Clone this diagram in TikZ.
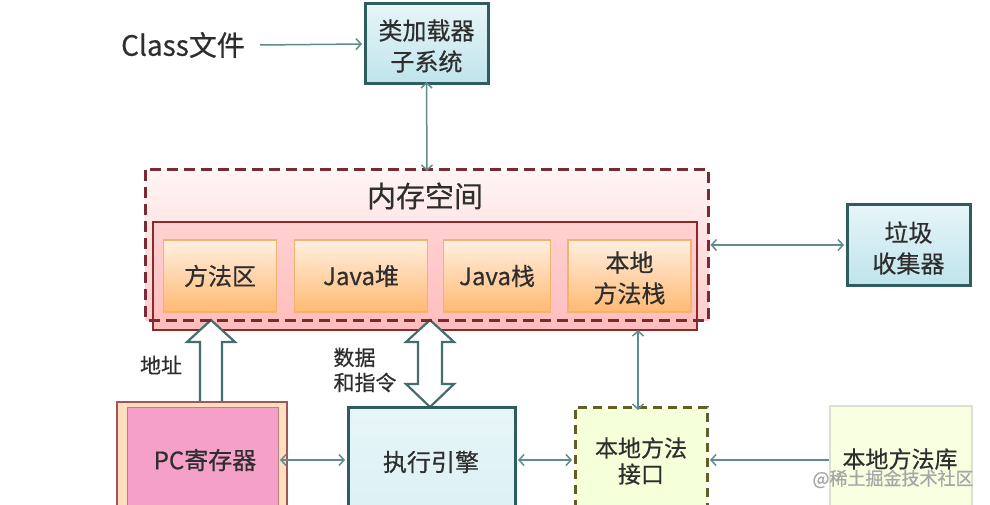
\documentclass[tikz,border=0pt]{standalone}
\usepackage{fontspec}
\setmainfont{Noto Sans CJK SC}[FakeBold=0.5]
\usetikzlibrary{arrows.meta}
\definecolor{tealline}{HTML}{2F5D5E}
\definecolor{conncol}{HTML}{5F8C8C}
\definecolor{txt}{HTML}{2E2E2E}
\definecolor{memred}{HTML}{7A2A35}
\definecolor{innerred}{HTML}{8B2A2A}
\definecolor{bluetop}{HTML}{E6F5F8}
\definecolor{bluebot}{HTML}{BFE4EC}
\definecolor{pcpink}{HTML}{F4A0C8}
\begin{document}
\begin{tikzpicture}[x=1pt,y=-1pt,
  every node/.style={text=txt, inner sep=0pt, outer sep=0pt},
  lbl/.style={font=\fontsize{24}{31}\selectfont, align=center},
  bluebox/.style={rectangle, top color=bluetop, bottom color=bluebot, draw=tealline, line width=3pt},
  subbox/.style={rectangle, top color=orange!12!white, bottom color=orange!55!white, draw=orange!70!brown!60, line width=1.5pt},
  conn/.style={draw=conncol, line width=1.5pt, >={Straight Barb[length=5pt,width=11pt]}},
  hollow/.style={draw=tealline!90, line width=2.2pt, fill=white, line join=miter},
]
\clip (0,0) rectangle (990,505);
\fill[white] (0,0) rectangle (990,505);

% top
\node[font=\fontsize{28}{30}\selectfont] (classfile) at (183,45) {Class文件};
\node[bluebox, minimum width=123pt, minimum height=80pt] (loader) at (426.5,44) {};
\node[lbl] (loadertxt) at (426.5,46) {类加载器\\子系统};

% memory space
\node[rectangle, top color=red!4!white, bottom color=red!20!white, minimum width=563pt, minimum height=150pt] (mem) at (427,245) {};
\node[font=\fontsize{29}{30}\selectfont] (memtxt) at (425,196) {内存空间};
\node[rectangle, top color=red!18!white, bottom color=red!26!white, draw=innerred, line width=2pt, minimum width=544pt, minimum height=108pt] (inner) at (425,276) {};
\node[subbox, minimum width=113pt, minimum height=72pt] (ma) at (220,276) {};
\node[lbl] at (ma) {方法区};
\node[subbox, minimum width=133pt, minimum height=72pt] (heap) at (361,276) {};
\node[lbl] at (heap) {Java堆};
\node[subbox, minimum width=107pt, minimum height=72pt] (jstack) at (497,276) {};
\node[lbl] at (jstack) {Java栈};
\node[subbox, minimum width=123pt, minimum height=72pt] (nstack) at (629.5,276) {};
\node[lbl] at (629.5,278) {本地\\方法栈};

% hollow arrows
\draw[hollow] (211,320) -- (235,342) -- (222,342) -- (222,403) -- (200,403) -- (200,342) -- (187,342) -- cycle;
\draw[hollow] (430,320) -- (454,342) -- (442,342) -- (442,384) -- (454,384) -- (430,407) -- (406,384) -- (418,384) -- (418,342) -- (406,342) -- cycle;

\draw[memred, line width=3pt, dash pattern=on 11pt off 6pt] (mem.north west) rectangle (mem.south east);

% garbage collector
\node[bluebox, minimum width=123pt, minimum height=80pt] (gc) at (908.5,245) {};
\node[lbl] at (908.5,248) {垃圾\\收集器};

% bottom row
\coordinate (row) at (0,460);
\fill[orange!25!white] (117,402) rectangle (287,560);
\draw[innerred!80, line width=1.5pt] (117,402) rectangle (287,560);
\node[rectangle, fill=pcpink, draw=innerred!60, line width=1pt, minimum width=151pt, minimum height=153pt] (pc) at (202.5,483.5) {};
\node[lbl] at (205,460) {PC寄存器};

\node[bluebox, top color=bluetop, bottom color=bluebot!60!white, minimum width=167pt, minimum height=153pt] (exec) at (431.5,483.5) {};
\node[lbl] at (431,462) {执行引擎};

\node[rectangle, fill=lime!15!white, draw=olive!60!black, line width=3pt, dash pattern=on 9pt off 6pt, minimum width=132pt, minimum height=153pt] (iface) at (641,483.5) {};
\node[lbl, font=\fontsize{23}{26}\selectfont] at (641,461) {本地方法\\接口};

\node[rectangle, fill=lime!12!white, draw=lime!20!gray!30, line width=2pt, minimum width=142pt, minimum height=154pt] (lib) at (901,483) {};
\node[lbl, font=\fontsize{23}{26}\selectfont] at (900,459) {本地方法库};

\node[font=\fontsize{18}{20}\selectfont, text=gray!70] (wm) at (893,479) {@稀土掘金技术社区};

% labels
\node[font=\fontsize{21}{25}\selectfont] (addr) at (161,365) {地址};
\node[font=\fontsize{21}{25}\selectfont, align=left] (data) at (365,370) {数据\\和指令};

% connectors
\draw[conn,->] ([xshift=15pt]classfile.east) -- ([xshift=-3pt]loader.west);
\draw[conn,<->] ([yshift=2pt]loader.south) -- ([yshift=-1pt]mem.north);
\draw[conn,<->] ([xshift=2pt]mem.east) -- ([xshift=-3pt]gc.west);
\draw[conn,<->] ([xshift=2pt]pc.east |- row) -- ([xshift=-3pt]exec.west |- row);
\draw[conn,<->] ([xshift=3pt]exec.east |- row) -- ([xshift=-3pt]iface.west |- row);
\draw[conn,->] ([xshift=-1pt]lib.west |- row) -- ([xshift=3pt]iface.east |- row);
\draw[conn,<->] ([xshift=-3pt]iface.north |- inner.south) -- ([xshift=-3pt,yshift=-3pt]iface.north);
\end{tikzpicture}
\end{document}
